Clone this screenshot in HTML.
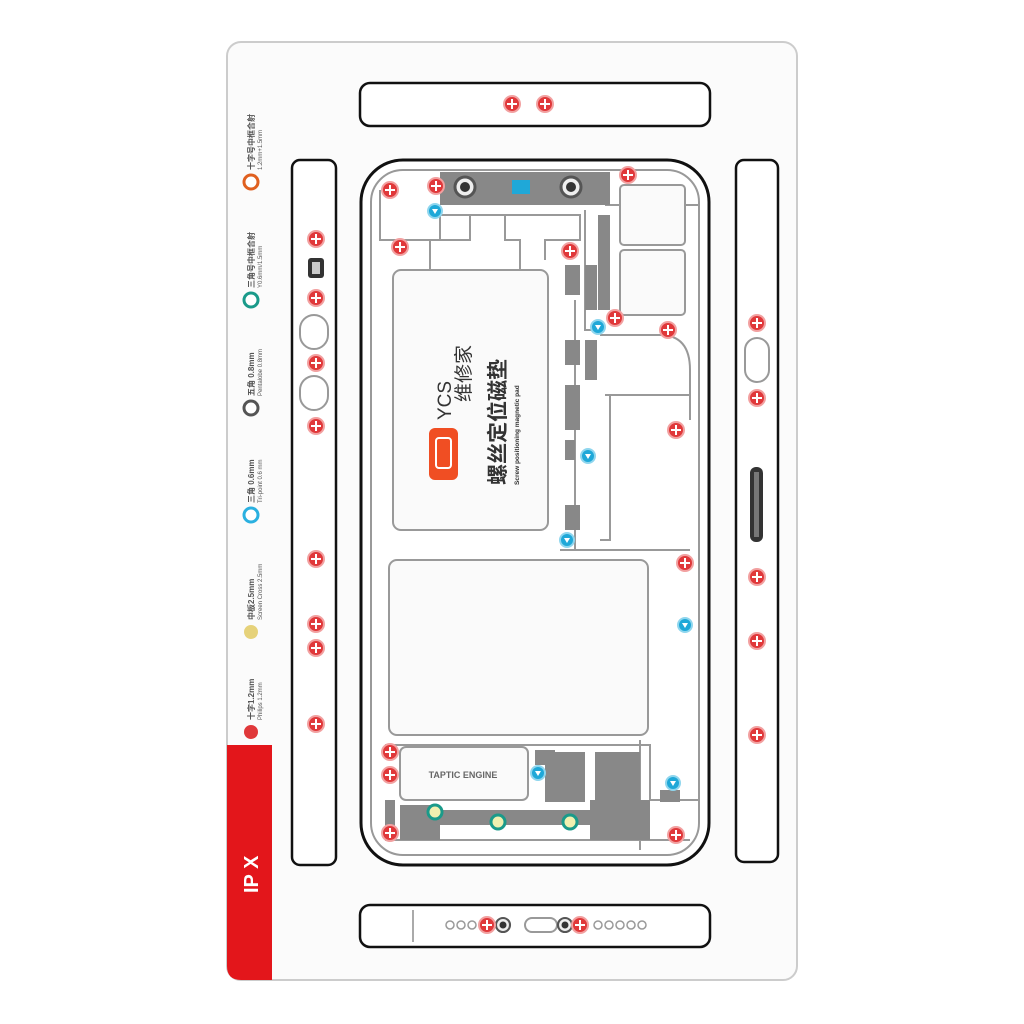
<!DOCTYPE html>
<html><head><meta charset="utf-8"><style>
html,body{margin:0;padding:0;background:#fff;width:1024px;height:1024px;overflow:hidden}
svg{display:block}
text{font-family:"Liberation Sans","Noto Sans CJK SC",sans-serif}
</style></head><body>
<svg width="1024" height="1024" viewBox="0 0 1024 1024" xmlns="http://www.w3.org/2000/svg">
<defs>
<g id="r"><circle r="8" fill="#e0383a" stroke="#f2a0a0" stroke-width="2"/><path d="M-5 0H5M0 -5V5" stroke="#fff" stroke-width="2"/></g>
<g id="b"><circle r="7" fill="#1fa8d8" stroke="#8fd6ee" stroke-width="2"/><path d="M-3 -2H3L0 3Z" fill="#fff"/></g>
<g id="g"><circle r="7" fill="#f0f0b0" stroke="#1a9a8a" stroke-width="3"/></g>
<g id="k"><circle r="10" fill="#eee" stroke="#555" stroke-width="3"/><circle r="5" fill="#333"/></g>
</defs>
<rect x="227" y="42" width="570" height="938" rx="14" fill="#fbfbfb" stroke="#ccc" stroke-width="2"/>
<path d="M227 745H272V980H241Q227 980 227 966Z" fill="#e3161b"/>
<text transform="translate(258,893) rotate(-90)" font-size="20" font-weight="bold" fill="#fff">IP X</text>
<g font-size="8" fill="#555" font-weight="bold">
<g transform="translate(254,722) rotate(-90)"><circle cx="-10" cy="-3" r="7" fill="#e0383a"/><text x="2" y="0">十字1.2mm</text><text x="2" y="8" font-size="6" font-weight="normal">Philips 1.2mm</text></g>
<g transform="translate(254,622) rotate(-90)"><circle cx="-10" cy="-3" r="7" fill="#e6d27a"/><text x="2" y="0">中板2.5mm</text><text x="2" y="8" font-size="6" font-weight="normal">Screen Cross 2.5mm</text></g>
<g transform="translate(254,505) rotate(-90)"><circle cx="-10" cy="-3" r="7" fill="#fff" stroke="#2ab0e0" stroke-width="3"/><text x="2" y="0">三角 0.6mm</text><text x="2" y="8" font-size="6" font-weight="normal">Tri-point 0.6 mm</text></g>
<g transform="translate(254,398) rotate(-90)"><circle cx="-10" cy="-3" r="7" fill="#fff" stroke="#555" stroke-width="3"/><text x="2" y="0">五角 0.8mm</text><text x="2" y="8" font-size="6" font-weight="normal">Pentalobe 0.8mm</text></g>
<g transform="translate(254,290) rotate(-90)"><circle cx="-10" cy="-3" r="7" fill="#fff" stroke="#1a9a8a" stroke-width="3"/><text x="2" y="0">三角号中框合射</text><text x="2" y="8" font-size="6" font-weight="normal">Y0.6mm/1.5mm</text></g>
<g transform="translate(254,172) rotate(-90)"><circle cx="-10" cy="-3" r="7" fill="#fff" stroke="#e06020" stroke-width="3"/><text x="2" y="0">十字号中框合射</text><text x="2" y="8" font-size="6" font-weight="normal">1.2mm+1.5mm</text></g>
</g>
<g fill="#fff" stroke="#111" stroke-width="2.5">
<rect x="360" y="83" width="350" height="43" rx="10"/>
<rect x="292" y="160" width="44" height="705" rx="8"/>
<rect x="736" y="160" width="42" height="702" rx="8"/>
<rect x="360" y="905" width="350" height="42" rx="10"/>
<rect x="361" y="160" width="348" height="705" rx="42" stroke-width="3"/>
</g>
<line x1="413" y1="910" x2="413" y2="942" stroke="#aaa" stroke-width="2"/>
<g fill="none" stroke="#999" stroke-width="2">
<rect x="371" y="170" width="328" height="685" rx="32"/>
<rect x="300" y="315" width="28" height="34" rx="14"/><rect x="300" y="376" width="28" height="34" rx="14"/>
<rect x="745" y="338" width="24" height="44" rx="12"/>
<rect x="525" y="918" width="32" height="14" rx="7"/>
<path d="M380 190V240H440V215H470V240H430V300M460 215H505V240H520V300M505 215H580V240H545V260M585 210V330H605M605 205H700M600 335H660Q690 335 690 370V420M605 395H690M610 395V540H600M575 300V550M560 550H690"/>
<path d="M385 745H650V800H700M385 840H690M640 740V850"/>
</g>
<rect x="393" y="270" width="155" height="260" rx="8" fill="#fafafa" stroke="#999" stroke-width="2"/>
<rect x="389" y="560" width="259" height="175" rx="8" fill="#fafafa" stroke="#999" stroke-width="2"/>
<rect x="400" y="747" width="128" height="53" rx="6" fill="#fafafa" stroke="#999" stroke-width="2"/>
<text x="463" y="778" font-size="9" font-weight="bold" fill="#666" text-anchor="middle">TAPTIC ENGINE</text>
<g fill="#888">
<rect x="440" y="172" width="170" height="33"/>
<rect x="598" y="215" width="12" height="95"/><rect x="585" y="265" width="12" height="45"/><rect x="565" y="265" width="15" height="30"/>
<rect x="565" y="340" width="15" height="25"/><rect x="585" y="340" width="12" height="40"/><rect x="565" y="385" width="15" height="45"/><rect x="565" y="440" width="10" height="20"/><rect x="565" y="505" width="15" height="25"/>
<rect x="385" y="800" width="10" height="30"/>
<rect x="400" y="805" width="40" height="35"/><rect x="440" y="810" width="210" height="15"/><rect x="590" y="800" width="60" height="40"/>
<rect x="535" y="750" width="20" height="15"/><rect x="545" y="752" width="40" height="50"/><rect x="595" y="752" width="45" height="60"/>
<rect x="660" y="790" width="20" height="12"/>
</g>
<g fill="#fafafa" stroke="#999" stroke-width="2">
<rect x="620" y="185" width="65" height="60" rx="4"/><rect x="620" y="250" width="65" height="65" rx="4"/>
</g>
<use href="#k" x="465" y="187"/><use href="#k" x="571" y="187"/>
<rect x="512" y="180" width="18" height="14" fill="#1fa8d8"/>
<rect x="429" y="428" width="29" height="52" rx="6" fill="#f04e23"/>
<rect x="436" y="438" width="15" height="30" rx="3" fill="none" stroke="#fff" stroke-width="2"/>
<text transform="translate(451,420) rotate(-90)" font-size="19" fill="#333">YCS</text>
<text transform="translate(470,402) rotate(-90)" font-size="19" fill="#333">维修家</text>
<text transform="translate(505,485) rotate(-90)" font-size="21" font-weight="bold" fill="#333">螺丝定位磁垫</text>
<text transform="translate(519,485) rotate(-90)" font-size="6.5" font-weight="bold" fill="#333">Screw positioning magnetic pad</text>
<rect x="308" y="258" width="16" height="20" rx="3" fill="#333"/><rect x="312" y="262" width="8" height="12" fill="#ccc"/>
<rect x="750" y="467" width="13" height="75" rx="6" fill="#333"/><rect x="754" y="472" width="5" height="65" fill="#777"/>
<g fill="#fff" stroke="#999" stroke-width="1.5">
<circle cx="450" cy="925" r="4"/><circle cx="461" cy="925" r="4"/><circle cx="472" cy="925" r="4"/>
<circle cx="598" cy="925" r="4"/><circle cx="609" cy="925" r="4"/><circle cx="620" cy="925" r="4"/><circle cx="631" cy="925" r="4"/><circle cx="642" cy="925" r="4"/>
</g>
<g transform="translate(503,925) scale(.7)"><use href="#k"/></g><g transform="translate(565,925) scale(.7)"><use href="#k"/></g>
<use href="#r" x="487" y="925"/><use href="#r" x="580" y="925"/>
<use href="#r" x="512" y="104"/><use href="#r" x="545" y="104"/>
<use href="#r" x="316" y="239"/><use href="#r" x="316" y="298"/><use href="#r" x="316" y="363"/><use href="#r" x="316" y="426"/><use href="#r" x="316" y="559"/><use href="#r" x="316" y="624"/><use href="#r" x="316" y="648"/><use href="#r" x="316" y="724"/>
<use href="#r" x="757" y="323"/><use href="#r" x="757" y="398"/><use href="#r" x="757" y="577"/><use href="#r" x="757" y="641"/><use href="#r" x="757" y="735"/>
<use href="#r" x="390" y="190"/><use href="#r" x="436" y="186"/><use href="#r" x="628" y="175"/><use href="#r" x="400" y="247"/><use href="#r" x="570" y="251"/><use href="#r" x="615" y="318"/><use href="#r" x="668" y="330"/><use href="#r" x="676" y="430"/><use href="#r" x="685" y="563"/><use href="#r" x="390" y="752"/><use href="#r" x="390" y="775"/><use href="#r" x="390" y="833"/><use href="#r" x="676" y="835"/>
<use href="#b" x="435" y="211"/><use href="#b" x="598" y="327"/><use href="#b" x="588" y="456"/><use href="#b" x="567" y="540"/><use href="#b" x="685" y="625"/><use href="#b" x="538" y="773"/><use href="#b" x="673" y="783"/>
<use href="#g" x="435" y="812"/><use href="#g" x="498" y="822"/><use href="#g" x="570" y="822"/>
</svg>
</body></html>
